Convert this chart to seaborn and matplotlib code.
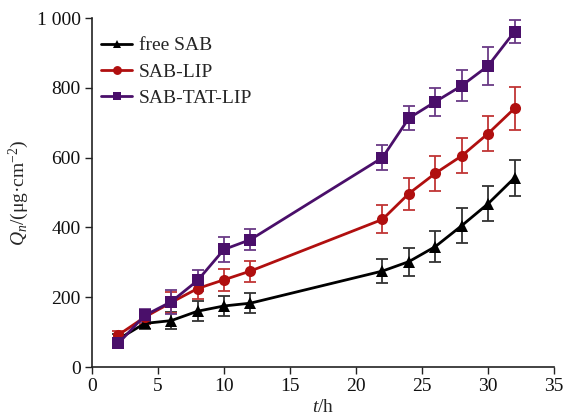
import numpy as np
import pandas as pd
import matplotlib
matplotlib.use("Agg")
import matplotlib.pyplot as plt
import seaborn as sns
from matplotlib.ticker import FuncFormatter

time_h = [2, 4, 6, 8, 10, 12, 22, 24, 26, 28, 30, 32]
free_sab = [80, 125, 133, 160, 175, 183, 275, 302, 345, 405, 468, 542]
free_sab_err = [15, 15, 25, 28, 28, 28, 35, 40, 45, 50, 50, 51]
sab_lip = [92, 143, 185, 225, 250, 275, 423, 497, 555, 605, 669, 741]
sab_lip_err = [12, 20, 30, 30, 32, 30, 40, 46, 50, 50, 50, 62]
sab_tat_lip = [68, 148, 187, 248, 337, 365, 600, 713, 760, 806, 863, 961]
sab_tat_lip_err = [10, 18, 35, 30, 35, 30, 35, 35, 40, 45, 55, 32]

series = ["free SAB", "SAB-LIP", "SAB-TAT-LIP"]
colors = {"free SAB": "#000000", "SAB-LIP": "#B00F0F", "SAB-TAT-LIP": "#4A0F6A"}
ecolors = {"free SAB": "#333333", "SAB-LIP": "#C03535", "SAB-TAT-LIP": "#6A3A86"}
markers = {"free SAB": "^", "SAB-LIP": "o", "SAB-TAT-LIP": "s"}

df = pd.DataFrame({
    "t": time_h * 3,
    "Q": free_sab + sab_lip + sab_tat_lip,
    "err": free_sab_err + sab_lip_err + sab_tat_lip_err,
    "series": sum([[s] * len(time_h) for s in series], []),
})

sns.set_style("ticks")
plt.rcParams["font.family"] = ["Liberation Serif", "DejaVu Serif"]
plt.rcParams["mathtext.fontset"] = "custom"
plt.rcParams["mathtext.rm"] = "Liberation Serif"
plt.rcParams["mathtext.it"] = "Liberation Serif:italic"

fig = plt.figure(figsize=(5.66, 4.19), dpi=100)
ax = fig.add_axes([0.1625, 0.124, 0.8165, 0.833])

for s in series:
    d = df[df["series"] == s]
    ax.errorbar(d["t"], d["Q"], yerr=d["err"], fmt="none", ecolor=ecolors[s],
                elinewidth=1.3, capsize=4, capthick=1.3, zorder=2)

sns.lineplot(data=df, x="t", y="Q", hue="series", style="series",
             palette=colors, markers=markers, dashes=False, ax=ax,
             linewidth=2, markersize=8, markeredgewidth=0, zorder=3,
             errorbar=None)

ax.set_xlim(0, 35)
ax.set_ylim(0, 1000)
ax.set_xticks(np.arange(0, 36, 5))
ax.set_yticks(np.arange(0, 1001, 200))
ax.yaxis.set_major_formatter(FuncFormatter(
    lambda v, p: f"{int(v):,}".replace(",", " ")))
ax.tick_params(axis="both", labelsize=14, length=5, width=1, direction="out",
               colors="#222222", labelcolor="#111111", pad=3)
for sp in ["left", "bottom"]:
    ax.spines[sp].set_linewidth(1.2)
    ax.spines[sp].set_color("#222222")
sns.despine(ax=ax)

ax.set_xlabel("$\\it{t}$/h", fontsize=14, labelpad=3)
ax.set_ylabel("$\\it{Q_n}$/(μg·cm$^{-2}$)", fontsize=14, labelpad=4)

leg = ax.legend(loc="upper left", frameon=False, fontsize=14,
                handlelength=1.6, handletextpad=0.35, labelspacing=0.45,
                markerscale=0.8, bbox_to_anchor=(-0.01, 0.985),
                borderaxespad=0.3)
ax.get_legend().set_title(None)

fig.savefig("out.png", dpi=100)
